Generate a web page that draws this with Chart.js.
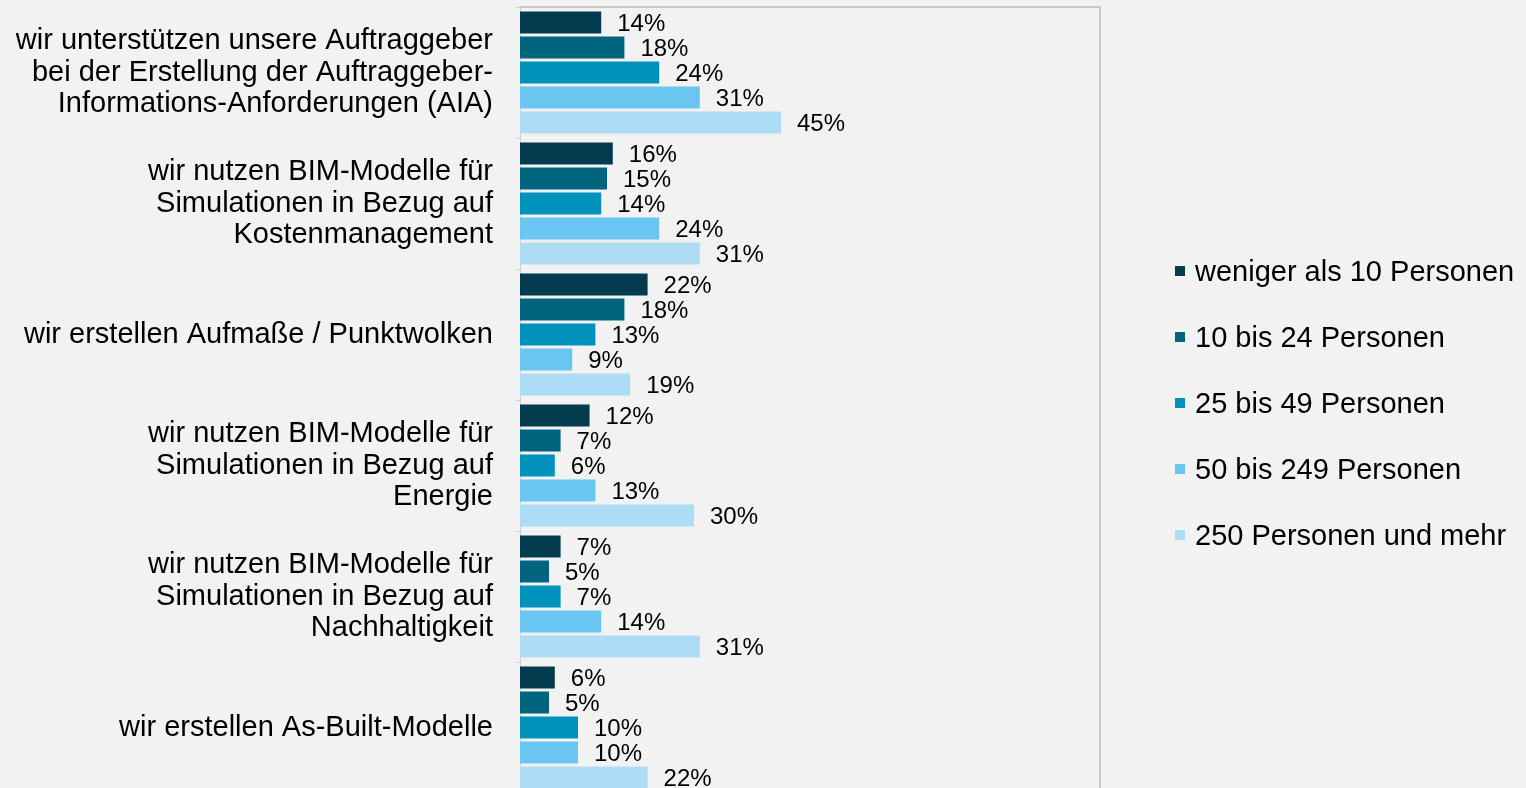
<!DOCTYPE html>
<html lang="de">
<head>
<meta charset="utf-8">
<title>BIM-Leistungen nach Unternehmensgröße</title>
<script src="https://cdn.jsdelivr.net/npm/chart.js@4/dist/chart.umd.min.js"></script>
<style>
  html, body { margin: 0; padding: 0; background: #f2f2f2; overflow: hidden; }
  #wrap { position: relative; width: 1526px; height: 800px; }
  #legend { position: absolute; left: 1175px; top: 253px; margin: 0; padding: 0; list-style: none;
            font-family: "Liberation Sans", Arial, sans-serif; font-size: 29px; color: #000; }
  #legend li { height: 66px; line-height: 36px; white-space: nowrap; }
  #legend span.box { display: inline-block; width: 10px; height: 10px; margin-right: 10px; vertical-align: 5px; }
</style>
</head>
<body>
<div id="wrap">
  <canvas id="bimChart" width="1526" height="800"></canvas>
  <ul id="legend"></ul>
</div>
<script>
const categories = [
  ['wir unterstützen unsere Auftraggeber', 'bei der Erstellung der Auftraggeber-', 'Informations-Anforderungen (AIA)'],
  ['wir nutzen BIM-Modelle für', 'Simulationen in Bezug auf', 'Kostenmanagement'],
  'wir erstellen Aufmaße / Punktwolken',
  ['wir nutzen BIM-Modelle für', 'Simulationen in Bezug auf', 'Energie'],
  ['wir nutzen BIM-Modelle für', 'Simulationen in Bezug auf', 'Nachhaltigkeit'],
  'wir erstellen As-Built-Modelle'
];
const seriesNames = ['weniger als 10 Personen', '10 bis 24 Personen', '25 bis 49 Personen', '50 bis 249 Personen', '250 Personen und mehr'];
const under10 = [14, 16, 22, 12, 7, 6];
const from10to24 = [18, 15, 18, 7, 5, 5];
const from25to49 = [24, 14, 13, 6, 7, 10];
const from50to249 = [31, 24, 9, 13, 14, 10];
const from250 = [45, 31, 19, 30, 31, 22];
const seriesColors = ['#033c4f', '#02657f', '#0192bb', '#69c6f1', '#addcf5'];

const FONT = '"Liberation Sans", Arial, sans-serif';
const seriesValues = [under10, from10to24, from25to49, from50to249, from250];

// percent labels right of each bar
const valueLabels = {
  id: 'valueLabels',
  afterDatasetsDraw(chart) {
    const ctx = chart.ctx;
    ctx.save();
    ctx.font = '24px ' + FONT;
    ctx.fillStyle = '#000';
    ctx.textAlign = 'left';
    ctx.textBaseline = 'middle';
    chart.data.datasets.forEach((ds, i) => {
      chart.getDatasetMeta(i).data.forEach((bar, j) => {
        ctx.fillText(ds.data[j] + '%', bar.x + 16, bar.y + 2);
      });
    });
    ctx.restore();
  }
};

// light frame on top and right of the plot area
const plotFrame = {
  id: 'plotFrame',
  afterDraw(chart) {
    const a = chart.chartArea;
    const ctx = chart.ctx;
    ctx.save();
    ctx.strokeStyle = '#c8c8c8';
    ctx.lineWidth = 2;
    ctx.beginPath();
    ctx.moveTo(a.left, a.top);
    ctx.lineTo(a.right, a.top);
    ctx.lineTo(a.right, a.bottom + 10);
    ctx.stroke();
    ctx.restore();
  }
};

const chart = new Chart(document.getElementById('bimChart'), {
  type: 'bar',
  data: {
    labels: categories,
    datasets: seriesNames.map((name, i) => ({
      label: name,
      data: seriesValues[i],
      backgroundColor: seriesColors[i],
      categoryPercentage: 0.954,
      barPercentage: 0.88
    }))
  },
  options: {
    indexAxis: 'y',
    responsive: false,
    animation: false,
    layout: { padding: { left: 0, right: 426, top: 7, bottom: 7 } },
    plugins: {
      legend: { display: false },
      tooltip: { enabled: false }
    },
    scales: {
      x: { display: false, min: 0, max: 100 },
      y: {
        afterFit(scale) {
          scale.width = 520;
          scale.paddingTop = 0;
          scale.paddingBottom = 0;
        },
        border: { color: '#cfcfcf', width: 1 },
        grid: { drawOnChartArea: false, tickLength: 4, color: '#cfcfcf' },
        ticks: {
          padding: 23,
          color: '#000',
          font: { family: FONT, size: 29, lineHeight: 1.07 }
        }
      }
    }
  },
  plugins: [valueLabels, plotFrame]
});

// legend list built from the chart's datasets
const legendEl = document.getElementById('legend');
chart.data.datasets.forEach(ds => {
  const li = document.createElement('li');
  const box = document.createElement('span');
  box.className = 'box';
  box.style.background = ds.backgroundColor;
  li.appendChild(box);
  li.appendChild(document.createTextNode(ds.label));
  legendEl.appendChild(li);
});
</script>
</body>
</html>
